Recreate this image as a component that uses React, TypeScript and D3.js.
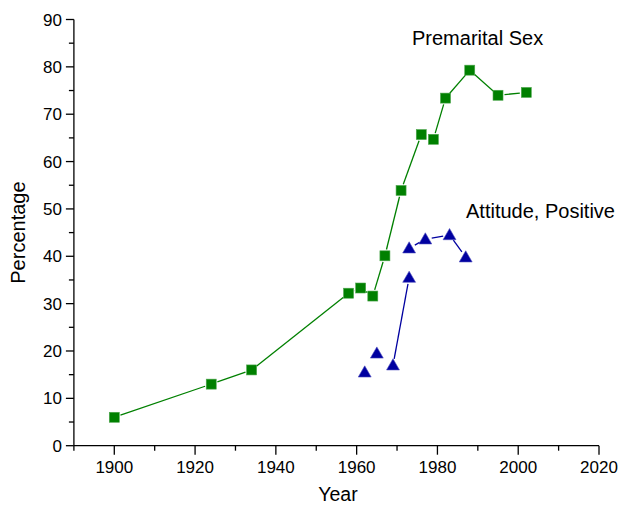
import * as d3 from "d3";
import { useEffect, useRef } from "react";

// Premarital Sex (green squares)
const sexYears = [1900, 1924, 1934, 1958, 1961, 1964, 1967, 1971, 1976, 1979, 1982, 1988, 1995, 2002];
const sexValues = [6.0, 13.0, 16.0, 32.2, 33.3, 31.6, 40.1, 53.9, 65.7, 64.7, 73.4, 79.3, 74.0, 74.6];

// Attitude, Positive (blue triangles); joinPrev = line drawn from previous point
const attYears = [1962, 1965, 1969, 1973, 1973, 1977, 1983, 1987];
const attValues = [15.5, 19.5, 17.0, 35.5, 41.7, 43.6, 44.5, 39.8];
const attJoinPrev = [false, false, false, true, false, true, true, true];

const xTicks = [1900, 1920, 1940, 1960, 1980, 2000, 2020];
const yTicks = [0, 10, 20, 30, 40, 50, 60, 70, 80, 90];

const FONT = "'Liberation Sans', Arial, sans-serif";

export default function App() {
  const ref = useRef<SVGSVGElement>(null);

  useEffect(() => {
    const width = 620;
    const height = 506;
    const svg = d3.select(ref.current);
    svg.selectAll("*").remove();
    svg.attr("width", width).attr("height", height);

    const x = d3.scaleLinear().domain([1890, 2020]).range([73.9, 599]);
    const y = d3.scaleLinear().domain([0, 90]).range([445.7, 19.5]);

    // axes
    const xAxis = svg.append("g").attr("transform", `translate(0,${y(0)})`);
    xAxis.append("line")
      .attr("x1", x(1890)).attr("x2", x(2020))
      .attr("stroke", "#000").attr("stroke-width", 1.3);
    xAxis.selectAll("line.minor")
      .data(d3.range(1890, 2021, 10).filter(v => !xTicks.includes(v)))
      .enter().append("line")
      .attr("x1", d => x(d)).attr("x2", d => x(d))
      .attr("y1", 0).attr("y2", 5)
      .attr("stroke", "#000").attr("stroke-width", 1.3);
    xAxis.selectAll("line.major")
      .data(xTicks).enter().append("line")
      .attr("x1", d => x(d)).attr("x2", d => x(d))
      .attr("y1", 0).attr("y2", 9)
      .attr("stroke", "#000").attr("stroke-width", 1.3);
    xAxis.selectAll("text")
      .data(xTicks).enter().append("text")
      .attr("x", d => x(d)).attr("y", 27.5)
      .attr("text-anchor", "middle")
      .attr("font-family", FONT).attr("font-size", 17)
      .text(d => d);

    const yAxis = svg.append("g").attr("transform", `translate(${x(1890)},0)`);
    yAxis.append("line")
      .attr("y1", y(0)).attr("y2", y(90))
      .attr("stroke", "#000").attr("stroke-width", 1.3);
    yAxis.selectAll("line.minor")
      .data(d3.range(5, 90, 10)).enter().append("line")
      .attr("y1", d => y(d)).attr("y2", d => y(d))
      .attr("x1", 0).attr("x2", -5)
      .attr("stroke", "#000").attr("stroke-width", 1.3);
    yAxis.selectAll("line.major")
      .data(yTicks).enter().append("line")
      .attr("y1", d => y(d)).attr("y2", d => y(d))
      .attr("x1", 0).attr("x2", -8)
      .attr("stroke", "#000").attr("stroke-width", 1.3);
    yAxis.selectAll("text")
      .data(yTicks).enter().append("text")
      .attr("x", -12).attr("y", d => y(d))
      .attr("dy", "0.36em")
      .attr("text-anchor", "end")
      .attr("font-family", FONT).attr("font-size", 17)
      .text(d => d);

    svg.append("text")
      .attr("x", 338).attr("y", 501)
      .attr("text-anchor", "middle")
      .attr("font-family", FONT).attr("font-size", 19.5)
      .text("Year");
    svg.append("text")
      .attr("transform", `translate(24.5,${y(45)})rotate(-90)`)
      .attr("text-anchor", "middle")
      .attr("font-family", FONT).attr("font-size", 20)
      .text("Percentage");

    // gapped line segments, Origin style
    const gap = 6.5;
    const drawSegments = (pts: [number, number][], join: boolean[], color: string) => {
      for (let i = 1; i < pts.length; i++) {
        if (!join[i]) continue;
        const [x1, y1] = pts[i - 1];
        const [x2, y2] = pts[i];
        const len = Math.hypot(x2 - x1, y2 - y1);
        if (len <= 2 * gap) continue;
        const ux = (x2 - x1) / len, uy = (y2 - y1) / len;
        svg.append("line")
          .attr("x1", x1 + ux * gap).attr("y1", y1 + uy * gap)
          .attr("x2", x2 - ux * gap).attr("y2", y2 - uy * gap)
          .attr("stroke", color).attr("stroke-width", 1.3);
      }
    };

    const green = "#008000";
    const blue = "#0000a0";

    const sexPts = sexYears.map((yr, i) => [x(yr), y(sexValues[i])] as [number, number]);
    drawSegments(sexPts, sexYears.map((_, i) => i > 0), green);
    svg.append("g").selectAll("rect")
      .data(sexPts).enter().append("rect")
      .attr("x", d => d[0] - 5).attr("y", d => d[1] - 5)
      .attr("width", 10).attr("height", 10)
      .attr("fill", green).attr("stroke", "#4da64d").attr("stroke-width", 0.6);

    const attPts = attYears.map((yr, i) => [x(yr), y(attValues[i])] as [number, number]);
    drawSegments(attPts, attJoinPrev, blue);
    const tri = d3.symbol().type(d3.symbolTriangle).size(72);
    svg.append("g").selectAll("path")
      .data(attPts).enter().append("path")
      .attr("transform", d => `translate(${d[0]},${d[1] + 1})`)
      .attr("d", tri)
      .attr("fill", blue).attr("stroke", "#4d4dbd").attr("stroke-width", 0.6);

    svg.append("text")
      .attr("x", 412).attr("y", 45)
      .attr("font-family", FONT).attr("font-size", 20)
      .text("Premarital Sex");
    svg.append("text")
      .attr("x", 466).attr("y", 218)
      .attr("font-family", FONT).attr("font-size", 20)
      .text("Attitude, Positive");
  }, []);

  return (
    <svg ref={ref} style={{ position: "absolute", left: 0, top: 0, background: "#fff" }} />
  );
}
